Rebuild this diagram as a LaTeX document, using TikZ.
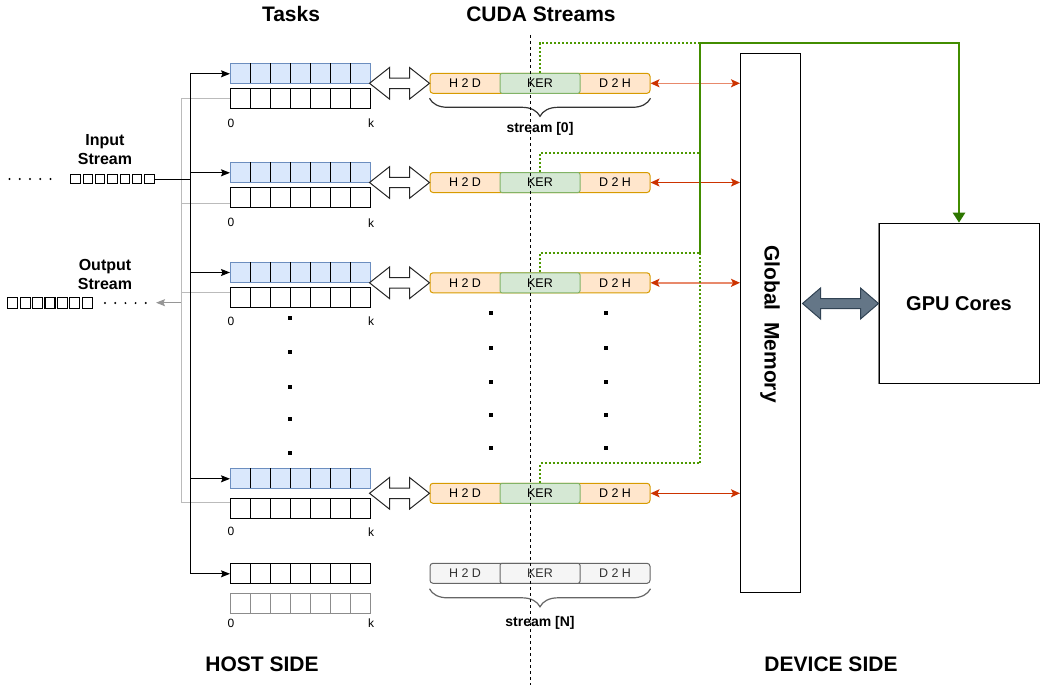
\documentclass[tikz,border=0pt]{standalone}
\usepackage{fontspec}
\setmainfont{Liberation Sans}
\usetikzlibrary{arrows.meta,decorations.pathreplacing,calc}
\definecolor{blueF}{HTML}{DAE8FC}
\definecolor{blueD}{HTML}{6C8EBF}
\definecolor{orF}{HTML}{FFE6CC}
\definecolor{orD}{HTML}{D79B00}
\definecolor{grF}{HTML}{D5E8D4}
\definecolor{grD}{HTML}{82B366}
\definecolor{gyF}{HTML}{F5F5F5}
\definecolor{gyD}{HTML}{666666}
\definecolor{gyT}{HTML}{333333}
\definecolor{redA}{HTML}{CC3300}
\definecolor{redL}{HTML}{E8896B}
\definecolor{greenDot}{HTML}{4D9900}
\definecolor{greenDark}{HTML}{2D7600}
\definecolor{slateF}{HTML}{647687}
\definecolor{slateD}{HTML}{314354}
\definecolor{lineGray}{HTML}{BBBBBB}
\begin{document}
\begin{tikzpicture}[x=1pt,y=-1pt,
  titlef/.style={font=\fontsize{21}{25}\selectfont\bfseries},
  midf/.style={font=\fontsize{16}{19}\selectfont\bfseries, align=center},
  lblf/.style={font=\fontsize{14}{16}\selectfont\bfseries},
  smallf/.style={font=\fontsize{12}{14}\selectfont},
  taskrow/.style={draw, line width=1pt, minimum width=140pt, minimum height=20pt, inner sep=0pt, anchor=north west},
  streambox/.style={draw=orD, fill=orF, line width=1pt, rounded corners=3pt, minimum width=220pt, minimum height=20pt, inner sep=0pt},
  kerbox/.style={draw=grD, fill=grF, line width=1pt, rounded corners=2pt, minimum width=80pt, minimum height=20pt, inner sep=0pt, font=\fontsize{12.5}{14}\selectfont},
  streamgray/.style={draw=gyD, fill=gyF, line width=1pt, rounded corners=3pt, minimum width=220pt, minimum height=20pt, inner sep=0pt},
  kergray/.style={draw=gyD, fill=gyF, line width=1pt, rounded corners=2pt, minimum width=80pt, minimum height=20pt, inner sep=0pt, text=gyT, font=\fontsize{12.5}{14}\selectfont},
  stext/.style={inner sep=0pt, font=\fontsize{12.5}{14}\selectfont},
  hollowarrow/.style={draw=black!85, fill=white, line width=1pt, line join=miter},
  blackarr/.style={line width=1pt, -{Stealth[length=9pt,width=7pt,inset=1.5pt]}},
  grayline/.style={draw=lineGray, line width=1pt},
  redarr/.style={line width=1.5pt, {Stealth[length=9pt,width=8pt,inset=2pt,color=redA]}-{Stealth[length=9pt,width=8pt,inset=2pt,color=redA]}},
  greendot/.style={draw=greenDot, line width=2pt, dash pattern=on 2pt off 2pt},
  greenthick/.style={draw=greenDot!65!greenDark, line width=2.6pt},
  brc/.style={draw=black!80, line width=1.2pt, decorate, decoration={brace, mirror, amplitude=18pt}},
  bigdot/.style={fill=black},
]
\useasboundingbox (0,0) rectangle (1040,685);

% ---- titles
\node[titlef] (tTasks) at (291,14) {Tasks};
\node[titlef] (tCuda) at (541,14) {CUDA Streams};
\node[titlef] (tHost) at (262,664) {HOST SIDE};
\node[titlef] (tDev) at (831,664) {DEVICE SIDE};

% ---- input / output stream
\node[midf] (inLbl) at (105,149.5) {Input\\Stream};
\node[midf] (outLbl) at (105,274) {Output\\Stream};
\foreach \k in {0,...,4} \fill (9.5+10.25*\k,179) circle (1.1pt);
\foreach \k in {0,...,6} \draw[line width=1.1pt] (70.8+12.35*\k,174.3) rectangle ++(9.3,9.3);
\foreach \k in {0,...,6} \draw[line width=1.1pt] (7.8+12.4*\k,297.8) rectangle ++(10,10.4);
\foreach \k in {0,...,4} \fill (105+10.2*\k,303) circle (1.1pt);

% ---- vertical distribution lines
\coordinate (inEnd) at (155,179);
\coordinate (inJ) at (190,179);
\coordinate (bTop) at (190,73.3);
\coordinate (bBot) at (190,573.3);
\coordinate (gTop) at (181,98.3);
\coordinate (gBot) at (181,502.7);
\coordinate (outStart) at (181,302.7);
\coordinate (outTip) at (156,302.7);
\draw[grayline] (gTop) -- (gBot);
\foreach \gy in {98.3,203.3,292.7,502.7} \draw[grayline] (181,\gy) -- (230,\gy);
\draw[draw=lineGray!80!black, line width=1pt, -{Stealth[length=9pt,width=7pt,inset=1.5pt]}] (outStart) -- (outTip);
\draw[line width=1pt] (inEnd) -- (inJ);
\draw[line width=1pt] (bTop) -- (bBot);

% ---- task rows
\foreach \i/\bt/\wt/\ly in {0/63.3/88.3/123, 1/162.3/187.3/222.7, 2/262/287/321, 3/468.3/498.3/531.7} {
  \node[taskrow, draw=blueD, fill=blueF] (tb\i) at (230,\bt) {};
  \foreach \k in {1,...,6} \draw[line width=1pt] (230+20*\k,\bt) -- ++(0,20);
  \node[taskrow] (tw\i) at (230,\wt) {};
  \foreach \k in {1,...,6} \draw[line width=1pt] (230+20*\k,\wt) -- ++(0,20);
  \node[smallf] (z\i) at (231,\ly) {0};
  \node[smallf] (kk\i) at (371,\ly) {k};
  \draw[blackarr] (tb\i.west -| bTop) -- (tb\i.west);
}
\node[taskrow] (tb4) at (230,563.3) {};
\foreach \k in {1,...,6} \draw[line width=1pt] (230+20*\k,563.3) -- ++(0,20);
\node[taskrow, draw=black!45] (tw4) at (230,593.3) {};
\foreach \k in {1,...,6} \draw[line width=1pt, draw=black!45] (230+20*\k,593.3) -- ++(0,20);
\node[smallf] (z4) at (231,623.3) {0};
\node[smallf] (kk4) at (371,623.3) {k};
\draw[blackarr] (tb4.west -| bTop) -- (tb4.west);

% ---- global memory and GPU
\node[draw, line width=1pt, minimum width=60pt, minimum height=539pt, inner sep=0pt, anchor=north west] (gm) at (740,53) {};
\node[rotate=-90, font=\fontsize{21}{25}\selectfont\bfseries] (gmt) at (770,324) {Global\ \ Memory};
\node[draw, line width=1pt, minimum width=160pt, minimum height=160.6pt, inner sep=0pt, anchor=north west, font=\fontsize{20}{24}\selectfont\bfseries] (gpu) at (878.5,222.7) {GPU Cores};
\draw[draw=gray, line width=1.6pt] (gpu.north west) -- (gpu.south west);

% ---- streams
\foreach \i/\c in {0/83.3,1/182.5,2/282.8,3/493.3} {
  \node[streambox] (s\i) at (540,\c) {};
  \node[kerbox] (k\i) at (540,\c) {KER};
  \node[stext] (h\i) at (465,\c) {H 2 D};
  \node[stext] (d\i) at (615,\c) {D 2 H};
  \draw[hollowarrow] (s\i.west) -- ++(-20,-15.8) -- ++(0,10.6) -- ++(-20,0) -- ++(0,-10.6) -- ++(-20,15.8) -- ++(20,15.8) -- ++(0,-10.6) -- ++(20,0) -- ++(0,10.6) -- cycle;
}
\node[streamgray] (sN) at (540,573.3) {};
\node[kergray] (kN) at (540,573.3) {KER};
\node[stext, text=gyT] (hN) at (465,573.3) {H 2 D};
\node[stext, text=gyT] (dN) at (615,573.3) {D 2 H};

% red arrows
\draw[redarr, draw=redL] (s0.east) -- (s0.east -| gm.west);
\draw[redarr, draw=redA] (s1.east) -- (s1.east -| gm.west);
\draw[redarr, draw=redL] (s2.east) -- (s2.east -| gm.west);
\draw[redarr, draw=redA] (s3.east) -- (s3.east -| gm.west);

% braces
\draw[brc] ($(s0.south west)+(0,4.5)$) -- ($(s0.south east)+(0,4.5)$);
\node[lblf] (l0) at (540,129) {stream [0]};
\draw[brc, draw=gyD] ($(sN.south west)+(0,5)$) -- ($(sN.south east)+(0,5)$);
\node[lblf] (lN) at (540,623) {stream [N]};

% ---- green paths
\coordinate (g0) at (700,43);
\coordinate (g1) at (700,153.3);
\coordinate (g2) at (700,253);
\coordinate (g3) at (700,463.3);
\draw[greendot] (k0.north) |- (g0);
\draw[greendot] (k1.north) |- (g1);
\draw[greendot] (k2.north) |- (g2);
\draw[greendot] (k3.north) |- (g3) -- (g2);
\draw[greenthick] (g2) -- (g0);
\draw[greenthick, -{Triangle[width=12pt,length=10pt,color=greenDark]}] (g0) -| (gpu.north);

% ---- fat arrow GM <-> GPU
\draw[draw=slateD, fill=slateF, line width=1pt, line join=miter] (gpu.west) -- ++(-18,-15.5) -- ++(0,10.5) -- ++(-40,0) -- ++(0,-10.5) -- ++(-18,15.5) -- ++(18,15.5) -- ++(0,-10.5) -- ++(40,0) -- ++(0,10.5) -- cycle;

% ---- dashed divider
\coordinate (dvTop) at (530.7,35);
\coordinate (dvBot) at (530.7,685);
\draw[line width=1pt, dash pattern=on 3pt off 3pt] (dvTop) -- (dvBot);

% ---- vertical ellipsis dots
\foreach \y in {318,352.3,386.7,419.3,453.3} \fill[bigdot] (288,\y-2) rectangle ++(4,4);
\foreach \y in {313.3,347.7,381.7,415,448.3} {
  \fill[bigdot] (488.7,\y-2) rectangle ++(4,4);
  \fill[bigdot] (603.7,\y-2) rectangle ++(4,4);
}
\end{tikzpicture}
\end{document}
